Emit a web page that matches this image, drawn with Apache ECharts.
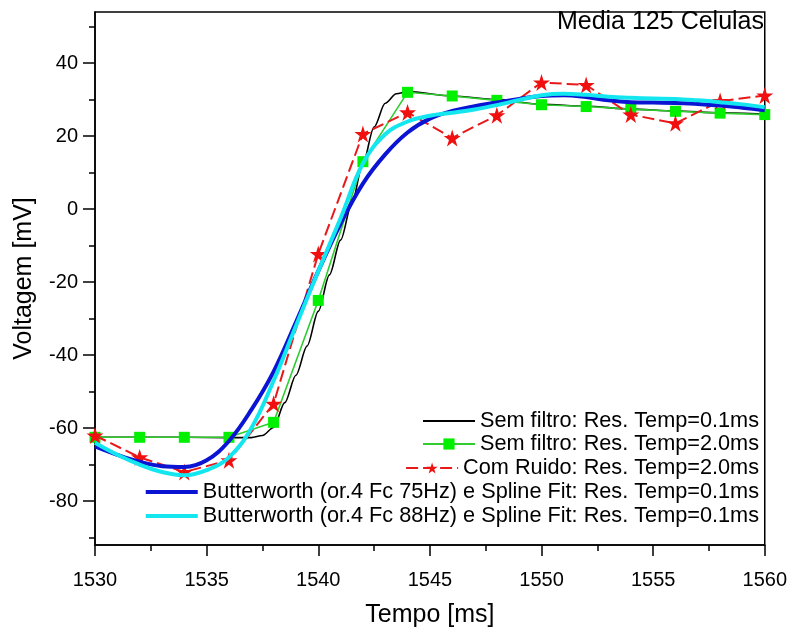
<!DOCTYPE html>
<html>
<head>
<meta charset="utf-8">
<script src="https://cdn.jsdelivr.net/npm/echarts@6/dist/echarts.min.js"></script>
<style>html,body{margin:0;padding:0;background:#fff;}#c{width:790px;height:637px;}</style>
</head>
<body>
<div id="c"></div>
<script>
// ---- data ----
const titleText = 'Media 125 Celulas';
const seriesNames = [
  'Sem filtro: Res. Temp=0.1ms',
  'Sem filtro: Res. Temp=2.0ms',
  'Com Ruido: Res. Temp=2.0ms',
  'Butterworth (or.4 Fc 75Hz) e Spline Fit: Res. Temp=0.1ms',
  'Butterworth (or.4 Fc 88Hz) e Spline Fit: Res. Temp=0.1ms'
];
const yMajorTicks = [-80, -60, -40, -20, 0, 20, 40];
const yMinorTicks = [-90, -70, -50, -30, -10, 10, 30, 50];

// black: resolution 0.1 ms (key points)
const blackT = [1530, 1532, 1534, 1536, 1537, 1537.5, 1538, 1538.5, 1539, 1539.5, 1540, 1540.5, 1541, 1541.5, 1542, 1542.5, 1543, 1543.5, 1544, 1546, 1548, 1550, 1552, 1554, 1556, 1558, 1560];
const blackV = [-62.5, -62.5, -62.5, -62.6, -62.6, -62, -59.8, -53, -45.5, -37.5, -28, -18, -8.5, 1.5, 12.5, 22.5, 29, 31.6, 32.2, 31, 30, 28.7, 28.2, 27.4, 26.9, 26.4, 26];

// green & red: resolution 2.0 ms
const t2 = [1530, 1532, 1534, 1536, 1538, 1540, 1542, 1544, 1546, 1548, 1550, 1552, 1554, 1556, 1558, 1560];
const greenV = [-62.5, -62.5, -62.5, -62.5, -58.4, -25, 13, 32, 31, 29.8, 28.6, 28.1, 27.4, 26.8, 26.3, 25.9];
const redV = [-62, -68, -72, -68.8, -53.3, -12.3, 20.6, 26.5, 19.5, 25.7, 34.7, 34, 25.9, 23.5, 29.6, 31.1];

// Butterworth + spline fits (sampled every 1 ms)
const t1 = [1530, 1531, 1532, 1533, 1534, 1535, 1536, 1537, 1538, 1539, 1540, 1541, 1542, 1543, 1544, 1545, 1546, 1547, 1548, 1549, 1550, 1551, 1552, 1553, 1554, 1555, 1556, 1557, 1558, 1559, 1560];
const blueV = [-65, -67.3, -69.2, -70.4, -70.6, -68.8, -63.5, -55, -44.5, -31, -17, -4, 7, 15, 21, 24.8, 26.9, 28.2, 29.2, 30.2, 31, 31.2, 30.7, 29.8, 29.3, 29.2, 29.1, 28.8, 28.4, 27.8, 27.1];
const cyanV = [-64, -67.3, -70, -72, -72.9, -71.5, -68, -60, -47, -32, -17, -2.5, 12.5, 20.5, 24, 25.6, 26.4, 27.3, 28.5, 29.9, 31.2, 31.6, 31.3, 30.8, 30.5, 30.3, 30.2, 29.8, 29.3, 28.7, 27.9];

function zip(a, b) { return a.map((v, i) => [v, b[i]]); }

const FONT = 'Liberation Sans, Arial, sans-serif';
const STAR = 'path://M50,0 L61.2,34.5 L97.6,34.5 L68.2,55.9 L79.4,90.5 L50,69.1 L20.6,90.5 L31.8,55.9 L2.4,34.5 L38.8,34.5 Z';
const COLORS = ['#000000', '#2ecc2e', '#e8191b', '#0a14d2', '#14e6f0'];

const chart = echarts.init(document.getElementById('c'), null, { renderer: 'canvas' });

const legendRows = [421, 444, 468, 492, 516];
const legendIconH = [2, 14, 14, 4, 4];
const legends = seriesNames.map((n, i) => {
  const plain = (i === 0 || i === 3 || i === 4);
  return {
    data: [plain ? { name: n, icon: 'rect' } : n],
    orient: 'vertical',
    right: 31,
    top: legendRows[i] - 12,
    align: 'left',
    padding: 0,
    itemWidth: 52,
    itemHeight: legendIconH[i],
    selectedMode: false,
    textStyle: { fontSize: 21.7, color: '#000', fontFamily: FONT, lineHeight: 24 }
  };
});

const option = {
  animation: false,
  backgroundColor: '#fff',
  title: {
    text: titleText,
    right: 26, top: 10, padding: 0,
    textStyle: { fontSize: 25, fontWeight: 'normal', color: '#000', fontFamily: FONT }
  },
  legend: legends,
  grid: { left: 95, right: 22, top: 12, bottom: 92, show: true, borderColor: '#000', borderWidth: 1.5, containLabel: false },
  xAxis: {
    type: 'value', min: 1530, max: 1560, interval: 5,
    name: 'Tempo [ms]', nameLocation: 'middle', nameGap: 58,
    nameTextStyle: { fontSize: 25, color: '#000', fontFamily: FONT },
    axisLine: { show: true, onZero: false, lineStyle: { color: '#000', width: 1.5 } },
    axisTick: { show: true, inside: false, length: 11, lineStyle: { color: '#000', width: 1.5 } },
    minorTick: { show: true, splitNumber: 2, length: 6, lineStyle: { color: '#000', width: 1.5 } },
    splitLine: { show: false }, minorSplitLine: { show: false },
    axisLabel: { fontSize: 20, color: '#000', fontFamily: FONT, margin: 25, formatter: v => String(v) }
  },
  yAxis: [{
    type: 'value', min: -92, max: 54,
    name: 'Voltagem [mV]', nameLocation: 'middle', nameGap: 58,
    nameTextStyle: { fontSize: 25, color: '#000', fontFamily: FONT },
    axisLine: { show: true, onZero: false, lineStyle: { color: '#000', width: 1.5 } },
    axisTick: { show: true, inside: false, length: 12, customValues: yMajorTicks, lineStyle: { color: '#000', width: 1.5 } },
    splitLine: { show: false },
    axisLabel: { fontSize: 20, color: '#000', fontFamily: FONT, margin: 17, customValues: yMajorTicks }
  }, {
    type: 'value', min: -92, max: 54, position: 'left',
    axisLine: { show: false, onZero: false },
    axisTick: { show: true, inside: false, length: 6, customValues: yMinorTicks, lineStyle: { color: '#000', width: 1.5 } },
    axisLabel: { show: false, customValues: yMinorTicks },
    splitLine: { show: false }
  }],
  series: [
    {
      name: seriesNames[0], type: 'line', data: zip(blackT, blackV),
      symbol: 'none', smooth: 0.3, smoothMonotone: 'x',
      lineStyle: { color: COLORS[0], width: 1.6 }, itemStyle: { color: COLORS[0] }, z: 2
    },
    {
      name: seriesNames[1], type: 'line', data: zip(t2, greenV),
      symbol: 'rect', symbolSize: 11, showSymbol: true,
      lineStyle: { color: COLORS[1], width: 1.6 }, itemStyle: { color: '#00f000' }, z: 3
    },
    {
      name: seriesNames[2], type: 'line', data: zip(t2, redV),
      symbol: STAR, symbolSize: 17, showSymbol: true,
      lineStyle: { color: COLORS[2], width: 2, type: [12, 5] }, itemStyle: { color: '#f01010' }, z: 4
    },
    {
      name: seriesNames[3], type: 'line', data: zip(t1, blueV),
      symbol: 'none', smooth: 0.4,
      lineStyle: { color: COLORS[3], width: 4 }, itemStyle: { color: COLORS[3] }, z: 5
    },
    {
      name: seriesNames[4], type: 'line', data: zip(t1, cyanV),
      symbol: 'none', smooth: 0.4,
      lineStyle: { color: COLORS[4], width: 4 }, itemStyle: { color: COLORS[4] }, z: 6
    }
  ]
};
chart.setOption(option);
</script>
</body>
</html>
